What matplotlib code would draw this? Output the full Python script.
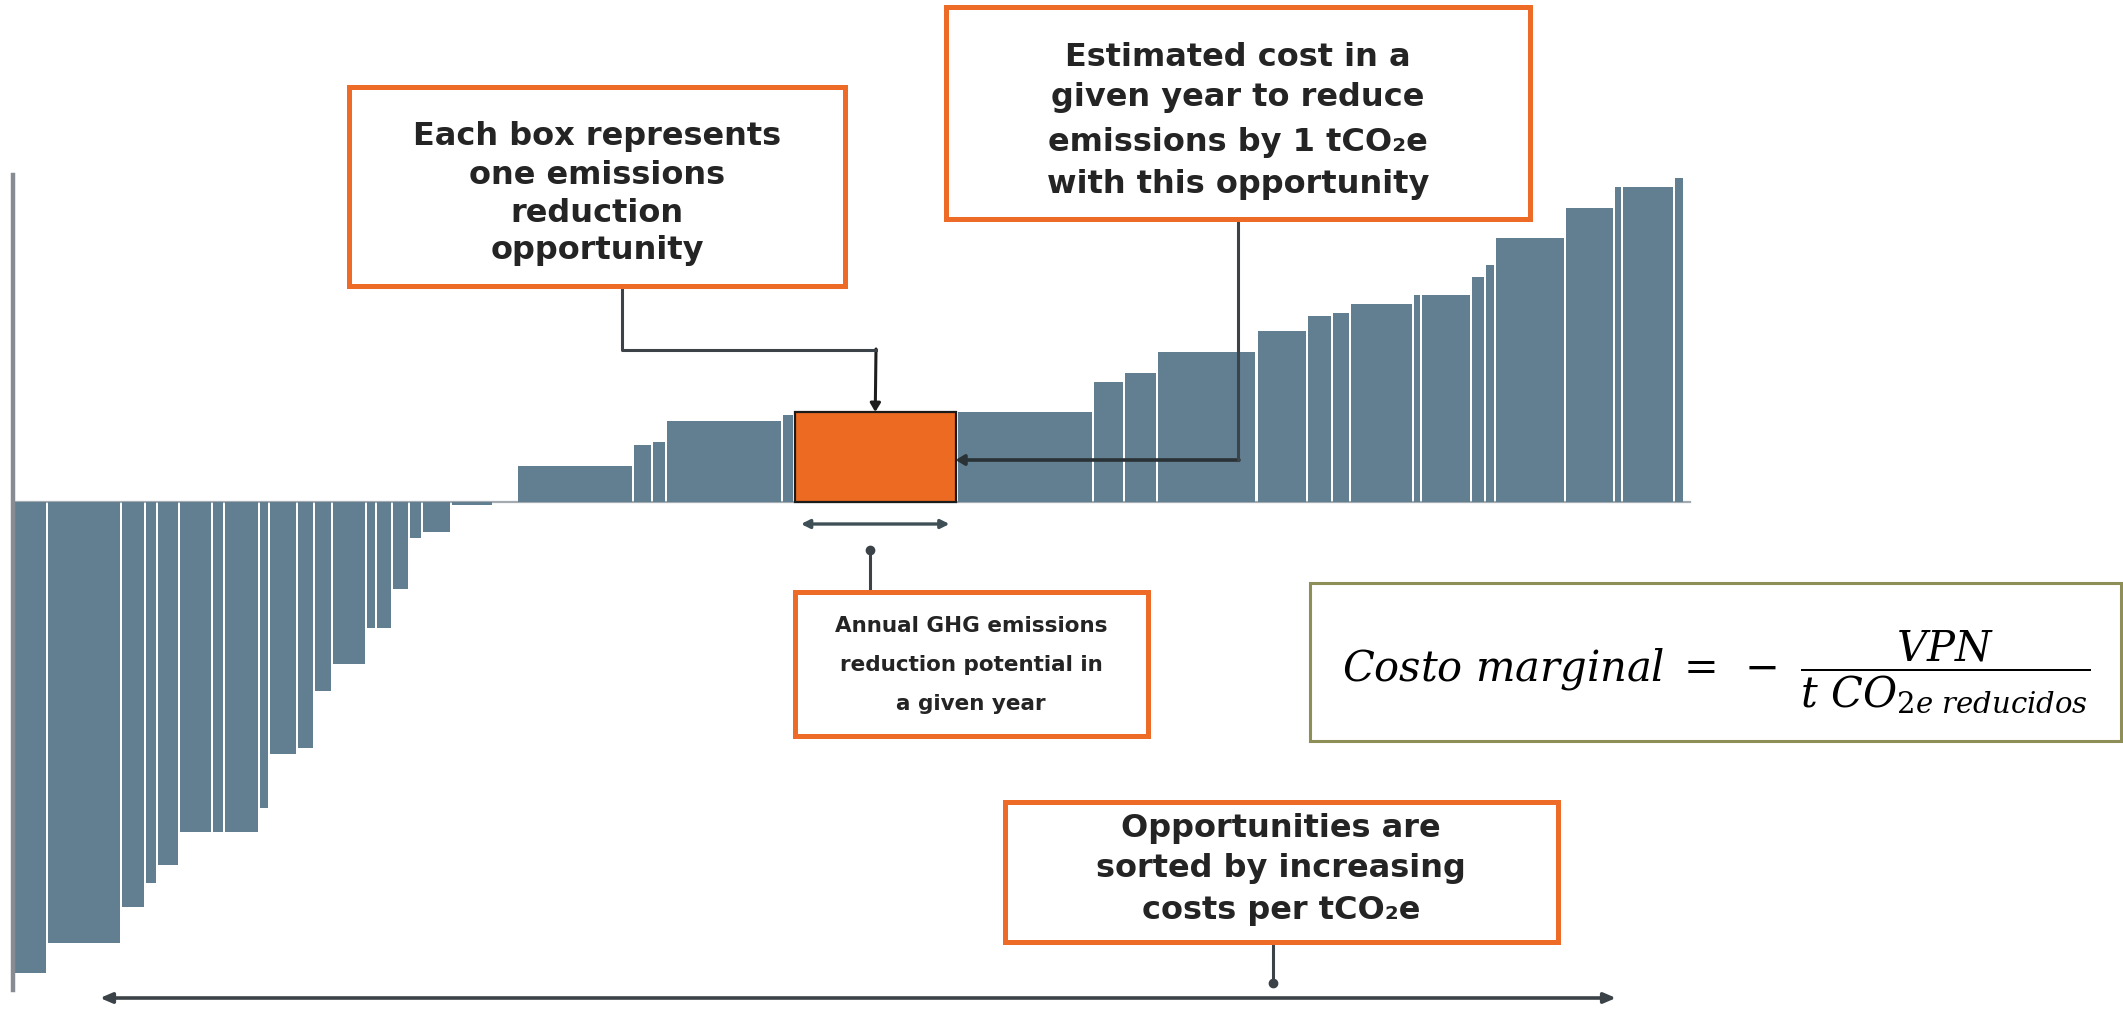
import numpy as np
import matplotlib
matplotlib.use("Agg")
import matplotlib.pyplot as plt
from matplotlib.patches import Rectangle
from matplotlib.lines import Line2D

# ---------------- data ----------------
# abatement potential of each opportunity (bar widths)
potential = [3.5, 7.4, 2.4, 1.2, 2.2, 3.3, 1.2, 3.5, 1.0, 2.8, 1.7, 1.8, 3.4, 1.0, 1.6,
             1.7, 1.3, 2.9, 4.2, 2.4,
             11.6, 1.9, 1.4, 11.6, 1.2, 16.3, 13.6, 3.1, 3.3, 10.0, 5.0, 2.5, 1.8, 6.3,
             0.8, 5.0, 1.4, 1.0, 7.0, 4.9, 0.8, 5.2, 1.0]
# cost per tCO2e of each opportunity (bar heights)
cost = [-157, -147, -135, -127, -121, -110, -110, -110, -102, -84, -82, -63, -54, -42, -42,
        -29, -12, -10, -1, 0,
        12, 19, 20, 27, 29, 30, 30, 40, 43, 50, 57, 62, 63, 66,
        69, 69, 75, 79, 88, 98, 105, 105, 108]
highlight = 25  # the example opportunity (orange box)

box_opportunity = ["Each box represents", "one emissions", "reduction", "opportunity"]
box_cost = ["Estimated cost in a", "given year to reduce",
            "emissions by 1 tCO\u2082e", "with this opportunity"]
box_potential = ["Annual GHG emissions", "reduction potential in", "a given year"]
box_sorted = ["Opportunities are", "sorted by increasing", "costs per tCO\u2082e"]
formula = r"$Costo\ marginal\;=\;-\ \dfrac{VPN}{t\ CO_{2e\ reducidos}}$"

# ---------------- figure ----------------
W, H = 2123, 1011
plt.rcParams['mathtext.fontset'] = 'dejavuserif'
fig = plt.figure(figsize=(W / 100, H / 100), dpi=100)
fig.patch.set_facecolor('white')
ax = fig.add_axes([0, 0, 1, 1])
ax.axis('off')


def fp(x, y):
    """image pixel (x from left, y from top) -> figure fraction"""
    return (x / W, 1 - y / H)


BAR = '#627e91'
ORANGE = '#ec6a22'
DARK = '#3b4348'

widths = np.array(potential, dtype=float)
lefts = np.concatenate([[0.0], np.cumsum(widths)[:-1]])
gap = 0.25
colors = [BAR] * len(cost)
colors[highlight] = ORANGE
bars = ax.bar(lefts, cost, width=widths - gap, align='edge', color=colors,
              linewidth=0, zorder=2)
bars[highlight].set_edgecolor('#1b1b1b')
bars[highlight].set_linewidth(1.6)
bars[highlight].set_zorder(3)

# scale: 1 unit of potential = 10 px, 1 unit of cost = 3 px, zero cost at y=502 px
ax.set_xlim(-13 / 10, (W - 13) / 10)
ax.set_ylim(-(H - 502) / 3, 502 / 3)

# axis lines
total = widths.sum()
ax.plot([0, total + 0.5], [0, 0], color='#a3abb0', lw=1.6, zorder=1)
fig.add_artist(Line2D([fp(13, 0)[0]] * 2, [fp(0, 175)[1], fp(0, 990)[1]],
                      color='#868c91', lw=3.2, transform=fig.transFigure))


# ---------------- annotation boxes ----------------
def tbox(x0, y0, x1, y1, lines, ys, cx, size, ec='#ee6b27', lw=3.6):
    xy = fp(x0, y1)
    fig.add_artist(Rectangle(xy, (x1 - x0) / W, (y1 - y0) / H, transform=fig.transFigure,
                             facecolor='white', edgecolor=ec, lw=lw, zorder=5))
    for t, y in zip(lines, ys):
        fig.text(*fp(cx, y), t, ha='center', va='center', fontsize=size,
                 fontweight='bold', family='DejaVu Sans', color='#242424', zorder=6)


tbox(349, 87, 845, 286, box_opportunity, [137, 175, 213, 251], 597, 23)
tbox(946, 7, 1530, 219, box_cost, [57, 98, 142, 184], 1238, 23)
tbox(795, 592, 1148, 736, box_potential, [626, 665, 704], 971, 15.5)
tbox(1005, 802, 1558, 942, box_sorted, [829, 869, 911], 1281, 23)

# formula box
fig.add_artist(Rectangle(fp(1310, 741), (2121 - 1310) / W, (741 - 583) / H,
                         transform=fig.transFigure, facecolor='white',
                         edgecolor='#8e8f57', lw=2.2, zorder=5))
fig.text(*fp(1716, 672), formula, ha='center', va='center', fontsize=30,
         color='black', zorder=6)

# ---------------- connectors ----------------
oc_left = lefts[highlight]
oc_right = lefts[highlight] + widths[highlight] - gap
oc_mid = (oc_left + oc_right) / 2
oc_top = cost[highlight]

# from box 1 to the top of the orange box
fig.add_artist(Line2D([fp(622, 0)[0], fp(622, 0)[0], fp(876, 0)[0]],
                      [fp(0, 286)[1], fp(0, 350)[1], fp(0, 350)[1]],
                      color=DARK, lw=2.2, transform=fig.transFigure, zorder=4))
ax.annotate('', xy=(oc_mid, oc_top), xycoords='data',
            xytext=fp(876, 349), textcoords='figure fraction',
            arrowprops=dict(arrowstyle='-|>,head_length=0.5,head_width=0.3',
                            color='#1e1e1e', lw=2.2, shrinkA=0, shrinkB=0), zorder=6)

# from box 2 to the right side of the orange box
fig.add_artist(Line2D([fp(1238, 0)[0], fp(1238, 0)[0]],
                      [fp(0, 219)[1], fp(0, 460)[1]],
                      color=DARK, lw=2.2, transform=fig.transFigure, zorder=4))
ax.annotate('', xy=(oc_right, (H - 460) / 3 - (H - 502) / 3), xycoords='data',
            xytext=fp(1239, 460), textcoords='figure fraction',
            arrowprops=dict(arrowstyle='-|>,head_length=0.5,head_width=0.3',
                            color='#2a3236', lw=2.6, shrinkA=0, shrinkB=0), zorder=6)

# width arrow under the orange box
ax.annotate('', xy=(oc_left + 0.6, fp(0, 524)[1]), xycoords=('data', 'figure fraction'),
            xytext=(oc_right - 0.6, fp(0, 524)[1]), textcoords=('data', 'figure fraction'),
            arrowprops=dict(arrowstyle='<|-|>,head_length=0.5,head_width=0.25',
                            color='#3e4f55', lw=2.4, shrinkA=0, shrinkB=0))
fig.add_artist(Line2D([fp(870, 0)[0]] * 2, [fp(0, 550)[1], fp(0, 592)[1]],
                      color=DARK, lw=2.2, transform=fig.transFigure, zorder=4))
fig.add_artist(Line2D([fp(870, 0)[0]], [fp(0, 550)[1]], marker='o', markersize=6,
                      color=DARK, transform=fig.transFigure, zorder=4))

# long arrow at the bottom
fig.add_artist(Line2D([fp(1273, 0)[0]] * 2, [fp(0, 942)[1], fp(0, 983)[1]],
                      color=DARK, lw=2.2, transform=fig.transFigure, zorder=4))
fig.add_artist(Line2D([fp(1273, 0)[0]], [fp(0, 983)[1]], marker='o', markersize=6,
                      color=DARK, transform=fig.transFigure, zorder=4))
ax.annotate('', xy=fp(100, 998), xycoords='figure fraction',
            xytext=fp(1616, 998), textcoords='figure fraction',
            arrowprops=dict(arrowstyle='<|-|>,head_length=0.7,head_width=0.3',
                            color=DARK, lw=2.6, shrinkA=0, shrinkB=0))

fig.savefig('out.png', dpi=100, facecolor='white')
